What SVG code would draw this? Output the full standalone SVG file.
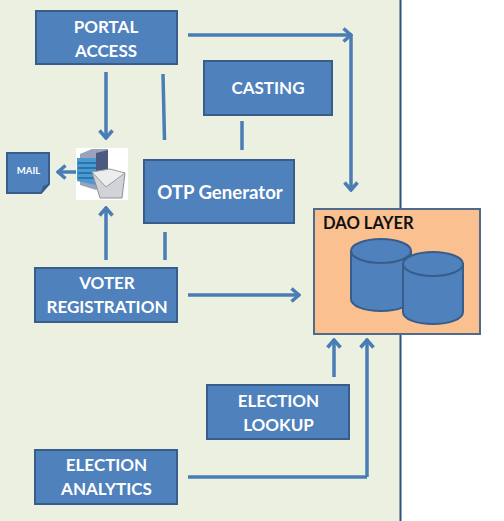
<svg xmlns="http://www.w3.org/2000/svg" width="504" height="521" viewBox="0 0 504 521">
<style>
.box{fill:#4f81bd;stroke:#385d8a;stroke-width:2}
.lbl{font-family:Lato,"Liberation Sans",sans-serif;font-weight:700;font-size:17px;fill:#fff;text-anchor:middle}
.line{fill:none;stroke:#4a7db5;stroke-width:3.500}
.cyl{fill:#4f81bd;stroke:#385d8a;stroke-width:2}
</style>
<defs>
<marker id="a" viewBox="0 0 12 16" refX="11" refY="8" markerWidth="12" markerHeight="16" markerUnits="userSpaceOnUse" orient="auto"><path d="M2.500 1.500L10 8L2.500 14.500" fill="none" stroke="#4a7db5" stroke-width="3.500"/></marker>
</defs>
<rect width="504" height="521" fill="#fff"/>
<rect x="0" y="0" width="400" height="521" fill="#ebf0e1"/>
<path d="M400.500 0V521" stroke="#2f5180" stroke-width="2" fill="none"/>
<g id="connectors">
<path class="line" marker-end="url(#a)" d="M188 35H352"/>
<path class="line" marker-end="url(#a)" d="M351 35V191"/>
<path class="line" marker-end="url(#a)" d="M106 72V139"/>
<path class="line" d="M163 74L164.500 140"/>
<path class="line" d="M242 121V150"/>
<path class="line" d="M165 232V260"/>
<path class="line" marker-end="url(#a)" d="M76 172H57"/>
<path class="line" marker-end="url(#a)" d="M106 260V207"/>
<path class="line" marker-end="url(#a)" d="M188 295H300"/>
<path class="line" marker-end="url(#a)" d="M334 377V339"/>
<path class="line" d="M188 477H367"/>
<path class="line" marker-end="url(#a)" d="M367 477V339"/>
</g>
<g id="portal-access"><rect class="box" x="36" y="11" width="141" height="53"/><text class="lbl" x="106" y="32.500">PORTAL</text><text class="lbl" x="106" y="56.500">ACCESS</text></g>
<g id="casting"><rect class="box" x="204" y="61" width="128" height="54"/><text class="lbl" x="268" y="93.500">CASTING</text></g>
<g id="otp-generator"><rect class="box" x="144" y="160" width="150" height="63"/><text class="lbl" x="220" y="199" style="font-size:18.600px">OTP Generator</text></g>
<g id="voter-registration"><rect class="box" x="35" y="268" width="142" height="54"/><text class="lbl" x="107" y="288.500">VOTER</text><text class="lbl" x="107" y="312.500">REGISTRATION</text></g>
<g id="election-lookup"><rect class="box" x="207" y="385" width="142" height="54"/><text class="lbl" x="278.500" y="406.500">ELECTION</text><text class="lbl" x="278.500" y="430.500">LOOKUP</text></g>
<g id="election-analytics"><rect class="box" x="35" y="450" width="142" height="54"/><text class="lbl" x="106.500" y="470.500">ELECTION</text><text class="lbl" x="106.500" y="494.500">ANALYTICS</text></g>
<g id="mail"><path class="box" d="M7 153H49V184L41 193H7Z"/><path d="M41 193L43 186L49 184Z" fill="#385d8a"/><text x="28.500" y="174" font-family="Lato,'Liberation Sans',sans-serif" font-weight="700" font-size="9.500" fill="#fff" text-anchor="middle">MAIL</text></g>
<g id="mail-server">
<rect x="76" y="148" width="52" height="52" fill="#fff"/>
<path d="M80 154L92 149H108V179L96 190L80 185Z" fill="#9aa3bb"/>
<path d="M96 153L108 150V178L96 186Z" fill="#4d5a80"/>
<path d="M77 158H96V185L77 181Z" fill="#4a9ad0"/>
<path d="M78 163H96M78 168H96M78 173H96M78 178H96" stroke="#1f6aa0" stroke-width="1.500"/>
<path d="M92 172L125 173L122 198H100Z" fill="#d2d3d8" stroke="#8d9097" stroke-width="1"/>
<path d="M92 172L106 187L125 173L110 169Z" fill="#eceded" stroke="#9a9ca2" stroke-width="1"/>
</g>
<g id="dao-layer">
<rect x="314" y="209" width="166" height="125" fill="#fac08f" stroke="#4f6a8c" stroke-width="2"/>
<text x="323" y="229" font-family="Lato,'Liberation Sans',sans-serif" font-weight="700" font-size="16.600" fill="#111">DAO LAYER</text>
<path class="cyl" d="M351 251V299C351 306 364 311 381 311S411 306 411 299V251Z"/>
<ellipse class="cyl" cx="381" cy="251" rx="30" ry="12"/>
<path class="cyl" d="M403 264V312C403 319 416 324 433 324S463 319 463 312V264Z"/>
<ellipse class="cyl" cx="433" cy="264" rx="30" ry="12"/>
</g>
</svg>
